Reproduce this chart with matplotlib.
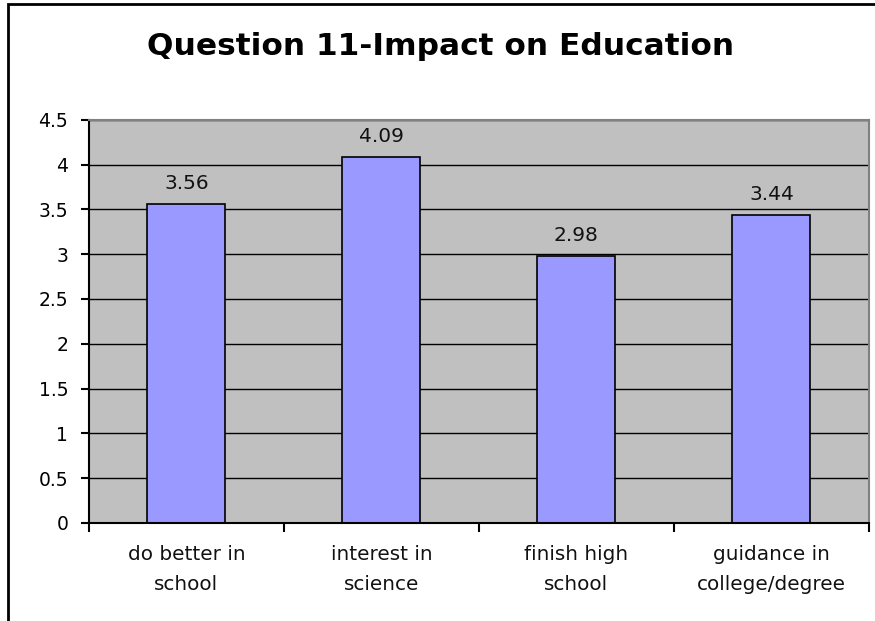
import matplotlib
matplotlib.use("Agg")
import matplotlib.pyplot as plt
from matplotlib.patches import Rectangle

categories = ["do better in\nschool", "interest in\nscience", "finish high\nschool", "guidance in\ncollege/degree"]
scores = [3.56, 4.09, 2.98, 3.44]
yticks = [0, 0.5, 1, 1.5, 2, 2.5, 3, 3.5, 4, 4.5]

plt.rcParams['font.family'] = ['DejaVu Sans']

fig = plt.figure(figsize=(8.75, 6.21), dpi=100)
ax = fig.add_axes([0.1017, 0.158, 0.8913, 0.649])

# outer chart border (right and bottom are cut off in the original)
fig.patches.append(Rectangle((8 / 875, -0.1), 1.2, 1.1 - 4 / 621, transform=fig.transFigure,
                             fill=False, edgecolor='black', linewidth=2))

ax.set_facecolor('#C0C0C0')
ax.set_axisbelow(True)
ax.yaxis.grid(True, color='black', linewidth=1)

x = range(len(scores))
bars = ax.bar(x, scores, width=0.4, color='#9999FF', edgecolor='black', linewidth=1.2)
for xi, v in zip(x, scores):
    ax.annotate(f"{v:.2f}", (xi, v), xytext=(0, 10.5), textcoords='offset points',
                ha='center', va='baseline', fontsize=14.5, color='#111111')

ax.set_xlim(-0.5, len(scores) - 0.5)
ax.set_ylim(0, 4.5)
ax.set_yticks(yticks)
ax.set_yticklabels([f"{t:g}" for t in yticks], fontsize=13.5)

# category boundaries carry the tick marks, labels sit centred
ax.set_xticks([i - 0.5 for i in range(len(scores) + 1)])
ax.set_xticklabels([])
ax.set_xticks(list(x), minor=True)
ax.set_xticklabels(categories, minor=True, fontsize=14.4, linespacing=1.7, color='#111111')
ax.tick_params(axis='x', which='minor', length=0, pad=16)
ax.tick_params(axis='x', which='major', length=6.5, width=1.5, direction='out')
ax.tick_params(axis='y', length=6, width=1.5, direction='out', pad=9)

for side in ('top', 'right'):
    ax.spines[side].set_color('#808080')
    ax.spines[side].set_linewidth(1.5)
for side in ('left', 'bottom'):
    ax.spines[side].set_color('black')
    ax.spines[side].set_linewidth(1.5)

fig.text(0.504, 0.9114, "Question 11-Impact on Education", ha='center', va='baseline',
         fontsize=22.5, fontweight='bold')

fig.savefig("out.png", dpi=100)
